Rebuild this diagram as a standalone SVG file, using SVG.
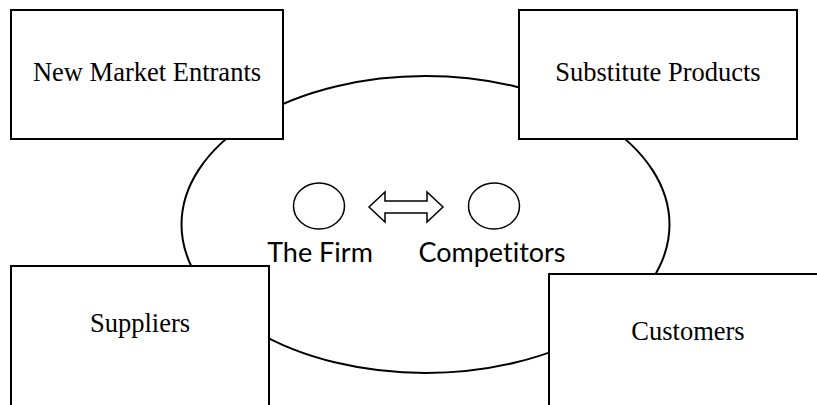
<svg xmlns="http://www.w3.org/2000/svg" width="817" height="405" viewBox="0 0 817 405">
  <style>
    .box { fill: #ffffff; stroke: #000000; stroke-width: 2; }
    .ring { fill: none; stroke: #000000; stroke-width: 2; }
    .dot { fill: #ffffff; stroke: #000000; stroke-width: 1.5; }
    .serif { font-family: "Liberation Serif", "Times New Roman", serif; font-size: 26.5px; fill: #000000; text-anchor: middle; }
    .sans { font-family: Lato, "Open Sans", "Liberation Sans", sans-serif; font-size: 27px; fill: #000000; text-anchor: middle; font-variant-ligatures: none; }
  </style>

  <!-- industry boundary -->
  <g id="industry">
    <ellipse class="ring" cx="425.5" cy="224.5" rx="244" ry="148.5"/>
  </g>

  <g id="firm">
    <ellipse class="dot" cx="319" cy="206" rx="25.5" ry="23"/>
    <text class="sans" x="320" y="262">The Firm</text>
  </g>

  <g id="competitors">
    <ellipse class="dot" cx="494" cy="206" rx="25.5" ry="23"/>
    <text class="sans" x="492" y="262">Competitors</text>
  </g>

  <g id="connectors">
    <path class="dot" d="M369,207 L385,192 L385,201 L427,201 L427,192 L443,207 L427,222 L427,213 L385,213 L385,222 Z"/>
  </g>

  <g id="new-market-entrants">
    <rect class="box" x="11" y="10" width="272" height="129"/>
    <text class="serif" x="147" y="81">New Market Entrants</text>
  </g>

  <g id="substitute-products">
    <rect class="box" x="519" y="10" width="278" height="129"/>
    <text class="serif" x="658" y="81">Substitute Products</text>
  </g>

  <g id="suppliers">
    <rect class="box" x="11" y="266" width="258" height="150"/>
    <text class="serif" x="140" y="332">Suppliers</text>
  </g>

  <g id="customers">
    <rect class="box" x="549" y="274" width="280" height="150"/>
    <text class="serif" x="688" y="340">Customers</text>
  </g>
</svg>
